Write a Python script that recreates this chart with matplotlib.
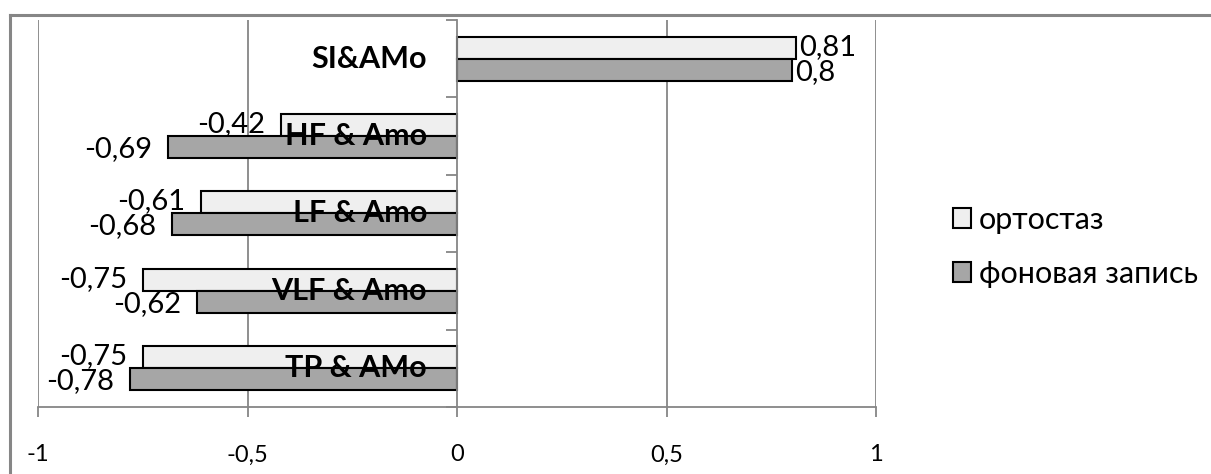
import numpy as np
import matplotlib.pyplot as plt
from matplotlib.patches import Patch
from matplotlib.lines import Line2D
from matplotlib.ticker import FuncFormatter

plt.rcParams['font.family'] = ['Lato', 'Noto Sans', 'DejaVu Sans']

# data (bottom to top)
categories = ['TP & AMo', 'VLF & Amo', 'LF & Amo', 'HF & Amo', 'SI&AMo']
ortostaz = [-0.75, -0.75, -0.61, -0.42, 0.81]
fon = [-0.78, -0.62, -0.68, -0.69, 0.8]
series_names = ['ортостаз', 'фоновая запись']


def comma(v):
    s = f'{v:g}'
    return s.replace('.', ',')


fig = plt.figure(figsize=(12.11, 4.74), dpi=100)
ax = fig.add_axes([0.0314, 0.1414, 0.6920, 0.8165])

y = np.arange(len(categories))
h = 0.284
c_ort = '#efefef'
c_fon = '#a6a6a6'
ax.barh(y + h / 2, ortostaz, height=h, color=c_ort, edgecolor='black', linewidth=1.5, zorder=3)
ax.barh(y - h / 2, fon, height=h, color=c_fon, edgecolor='black', linewidth=1.5, zorder=3)

# value labels
for yy, vals, dy in ((y + h / 2, ortostaz, 1), (y - h / 2, fon, -2)):
    for yi, v in zip(yy, vals):
        if v < 0:
            ax.annotate(comma(v), (v, yi), xytext=(-16, dy), textcoords='offset pixels',
                        ha='right', va='center', fontsize=21, zorder=5)
        else:
            ax.annotate(comma(v), (v, yi), xytext=(3, dy), textcoords='offset pixels',
                        ha='left', va='center', fontsize=21, zorder=5)

# category labels drawn over the bars
for yi, cat in zip(y, categories):
    ax.annotate(cat, (0, yi), xytext=(-30, 0), textcoords='offset pixels',
                ha='right', va='center', fontsize=22, fontweight='bold', zorder=6)

ax.set_xlim(-1, 1)
ax.set_ylim(-0.5, len(categories) - 0.5)
ax.set_xticks([-1, -0.5, 0, 0.5, 1])
ax.xaxis.set_major_formatter(FuncFormatter(lambda v, p: comma(v)))
ax.set_yticks(np.arange(-0.5, len(categories), 1.0))
ax.set_yticklabels([])

gray = '#868686'
for gx in [-1, -0.5, 0.5, 1]:
    ax.axvline(gx, color=gray, linewidth=1.3, zorder=1)

for s in ['top', 'right']:
    ax.spines[s].set_visible(False)
ax.spines['left'].set_position(('data', 0))
ax.spines['left'].set_color(gray)
ax.spines['left'].set_linewidth(1.3)
ax.spines['left'].set_zorder(4)
ax.spines['bottom'].set_color(gray)
ax.spines['bottom'].set_linewidth(1.3)
ax.tick_params(axis='x', colors=gray, length=7, width=1.3, labelsize=17, labelcolor='black', pad=20)
ax.tick_params(axis='y', colors=gray, length=8, width=1.3, direction='out')

handles = [Patch(facecolor=c_ort, edgecolor='black', linewidth=1.5),
           Patch(facecolor=c_fon, edgecolor='black', linewidth=1.5)]
fig.legend(handles, series_names, loc='center left', bbox_to_anchor=(0.764, 0.479),
           frameon=False, fontsize=22, handlelength=0.6, handleheight=0.6,
           handletextpad=0.25, labelspacing=0.85)

# chart border (top and left visible)
fig.add_artist(Line2D([0.0083, 1.0], [0.9684, 0.9684], color=gray, linewidth=2.2))
fig.add_artist(Line2D([0.0083, 0.0083], [0.0, 0.9684], color=gray, linewidth=2.2))

fig.savefig('out.png', dpi=100)
